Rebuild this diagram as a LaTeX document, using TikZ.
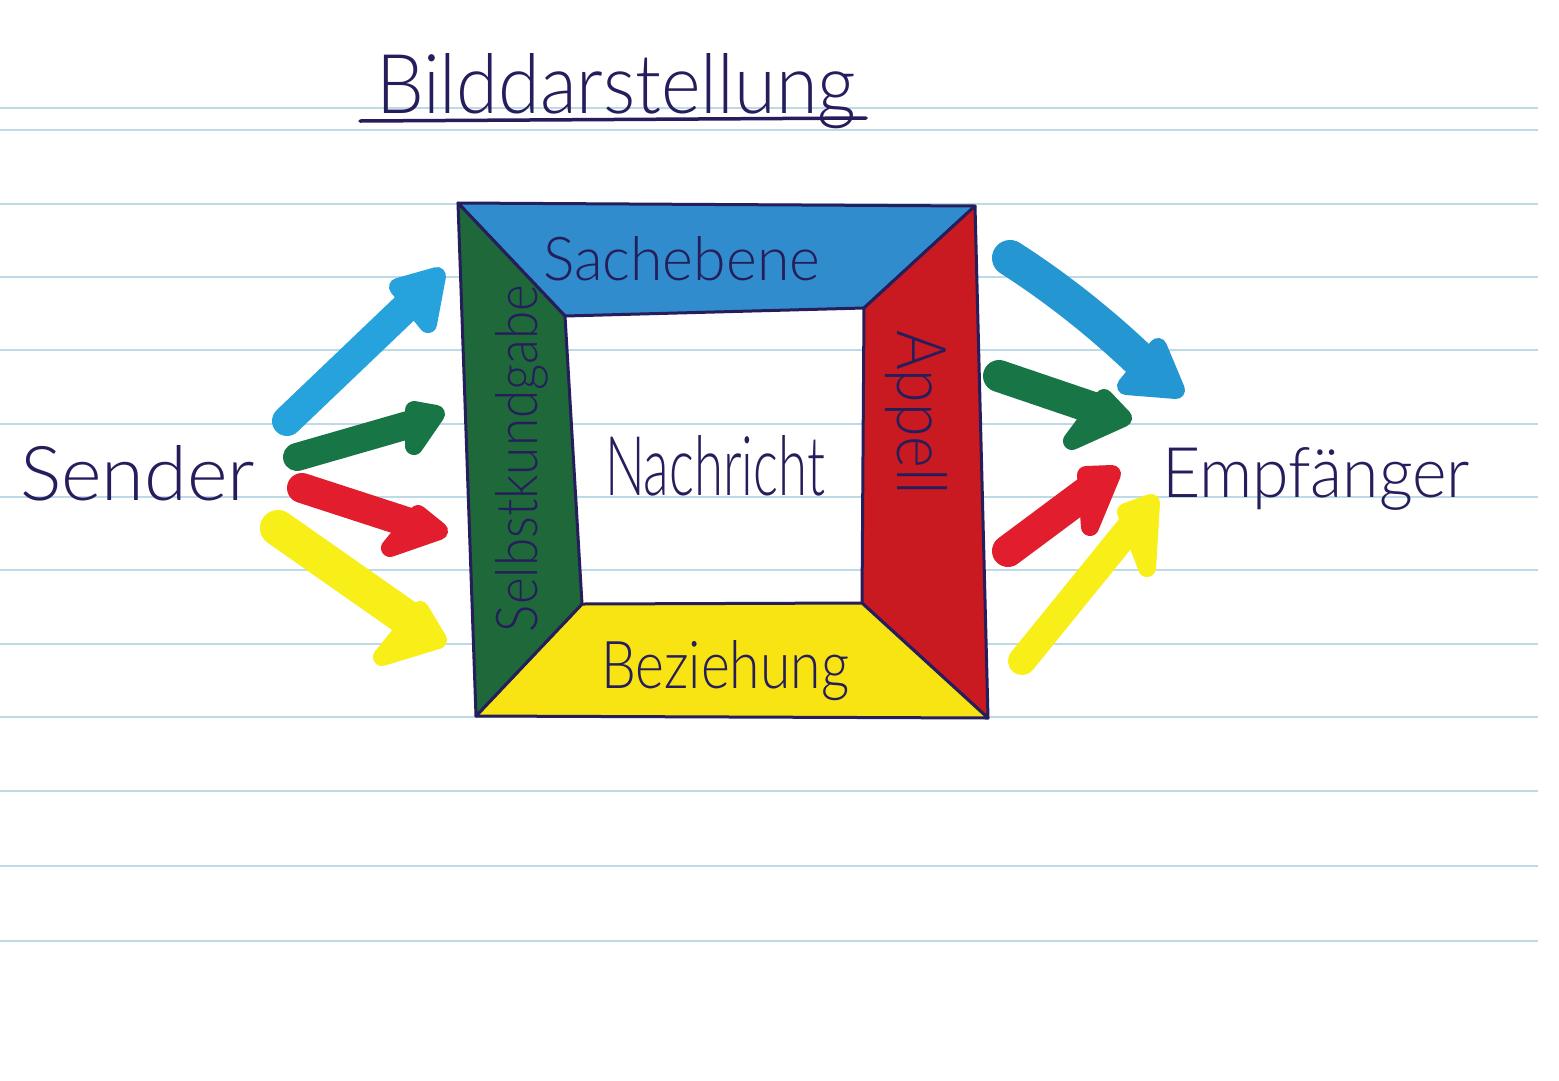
\documentclass[tikz,border=0pt]{standalone}
\usepackage{fontspec}
\setmainfont{Lato}[UprightFont=* Light]
\usepackage{graphicx}
\definecolor{ink}{RGB}{38,30,92}
\definecolor{rulec}{RGB}{190,218,230}
\definecolor{pblue}{RGB}{48,140,204}
\definecolor{pgreen}{RGB}{30,104,58}
\definecolor{pred}{RGB}{200,26,32}
\definecolor{pyellow}{RGB}{248,228,18}
\definecolor{ablue}{RGB}{38,162,220}
\definecolor{ablueR}{RGB}{36,150,210}
\definecolor{agreen}{RGB}{24,118,70}
\definecolor{ared}{RGB}{226,30,46}
\definecolor{ayellow}{RGB}{248,238,24}
\tikzset{
  rule/.style={draw=rulec, line width=2},
  panel/.style={draw=ink, line width=3, line join=round},
  lbl/.style={inner sep=0, outer sep=0, text=ink},
  shaft/.style={line width=#1, line cap=round, line join=round},
  head/.style={line width=18, line join=round},
}
\begin{document}
\begin{tikzpicture}[x=1pt,y=-1pt]
\useasboundingbox[fill=white] (0,0) rectangle (1559,1080);
% ruled paper
\foreach \yy in {108,130,204,277,350,424,497,570,644,717,791,866,941}
  \draw[rule] (0,\yy) -- (1538,\yy);

% title
\node[lbl, anchor=base west] (title) at (376,113) {\resizebox{480pt}{60pt}{Bilddarstellung}};
\coordinate (ulA) at (360,121);
\coordinate (ulB) at (866,118);
\draw[ink, line width=3.5, line cap=round] (ulA) -- (ulB);

% square coordinates
\coordinate (OTL) at (458,203);
\coordinate (OTR) at (975,206);
\coordinate (OBR) at (988,718);
\coordinate (OBL) at (476,716);
\coordinate (ITL) at (565,316);
\coordinate (ITR) at (864,308);
\coordinate (IBR) at (862,603);
\coordinate (IBL) at (582,604);

\filldraw[panel, fill=pblue] (OTL) -- (OTR) -- (ITR) -- (ITL) -- cycle;
\filldraw[panel, fill=pred] (OTR) -- (OBR) -- (IBR) -- (ITR) -- cycle;
\filldraw[panel, fill=pyellow] (OBR) -- (OBL) -- (IBL) -- (IBR) -- cycle;
\filldraw[panel, fill=pgreen] (OBL) -- (OTL) -- (ITL) -- (IBL) -- cycle;

% labels
\node[lbl, anchor=base west] (sach) at (543,280) {\resizebox{277pt}{44pt}{Sachebene}};
\node[lbl, anchor=base west] (bez) at (601,688) {\resizebox{248pt}{48pt}{Beziehung}};
\node[lbl, anchor=base west, rotate=90] (selbst) at (537,632) {\resizebox{347pt}{42pt}{Selbstkundgabe}};
\node[lbl, anchor=base west, rotate=-90] (appell) at (897,330) {\resizebox{165pt}{50pt}{Appell}};
\node[lbl, anchor=base west] (nachricht) at (605,495) {\resizebox{220pt}{60pt}{Nachricht}};
\node[lbl, anchor=base west] (sender) at (20,500) {\resizebox{235pt}{55pt}{Sender}};
\node[lbl, anchor=base west] (empf) at (1162,497) {\resizebox{308pt}{50pt}{Empfänger}};

% left arrows (sender -> square)
\coordinate (lbT) at (287,421); \coordinate (lbE) at (420,294);
\coordinate (lbP) at (437,276); \coordinate (lbA) at (398,287); \coordinate (lbB) at (428,324);
\draw[ablue, shaft=30] (lbT) -- (lbE);
\filldraw[ablue, head] (lbP) -- (lbA) -- (lbB) -- cycle;

\coordinate (lgT) at (297,457); \coordinate (lgE) at (422,421);
\coordinate (lgP) at (436,414); \coordinate (lgA) at (414,410); \coordinate (lgB) at (414,446);
\draw[agreen, shaft=28] (lgT) -- (lgE);
\filldraw[agreen, head] (lgP) -- (lgA) -- (lgB) -- cycle;

\coordinate (lrT) at (302,488); \coordinate (lrE) at (422,527);
\coordinate (lrP) at (439,531); \coordinate (lrA) at (418,514); \coordinate (lrB) at (390,548);
\draw[ared, shaft=30] (lrT) -- (lrE);
\filldraw[ared, head] (lrP) -- (lrA) -- (lrB) -- cycle;

\coordinate (lyT) at (278,528); \coordinate (lyE) at (415,624);
\coordinate (lyP) at (438,640); \coordinate (lyA) at (420,610); \coordinate (lyB) at (382,657);
\draw[ayellow, shaft=36] (lyT) -- (lyE);
\filldraw[ayellow, head] (lyP) -- (lyA) -- (lyB) -- cycle;

% right arrows (square -> empfaenger)
\coordinate (rbT) at (1010,258); \coordinate (rbE) at (1155,375);
\coordinate (rbP) at (1176,390); \coordinate (rbA) at (1158,347); \coordinate (rbB) at (1126,386);
\draw[ablueR, shaft=36] (rbT) .. controls (1060,290) and (1110,330) .. (rbE);
\filldraw[ablueR, head] (rbP) -- (rbA) -- (rbB) -- cycle;

\coordinate (rgT) at (999,376); \coordinate (rgE) at (1108,413);
\coordinate (rgP) at (1123,418); \coordinate (rgA) at (1104,398); \coordinate (rgB) at (1072,441);
\draw[agreen, shaft=32] (rgT) -- (rgE);
\filldraw[agreen, head] (rgP) -- (rgA) -- (rgB) -- cycle;

\coordinate (rrT) at (1008,551); \coordinate (rrE) at (1098,484);
\coordinate (rrP) at (1112,474); \coordinate (rrA) at (1086,475); \coordinate (rrB) at (1090,527);
\draw[ared, shaft=32] (rrT) -- (rrE);
\filldraw[ared, head] (rrP) -- (rrA) -- (rrB) -- cycle;

\coordinate (ryT) at (1022,661); \coordinate (ryE) at (1138,518);
\coordinate (ryP) at (1151,503); \coordinate (ryA) at (1126,512); \coordinate (ryB) at (1147,568);
\draw[ayellow, shaft=28] (ryT) -- (ryE);
\filldraw[ayellow, head] (ryP) -- (ryA) -- (ryB) -- cycle;
\end{tikzpicture}
\end{document}
